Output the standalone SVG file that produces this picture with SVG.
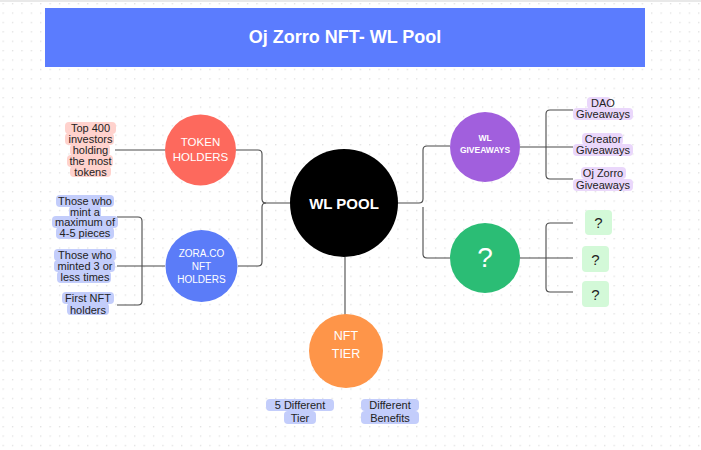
<svg xmlns="http://www.w3.org/2000/svg" width="701" height="450" viewBox="0 0 701 450">
<defs>
<pattern id="dots" x="2.5" y="3" width="9.4" height="9.4" patternUnits="userSpaceOnUse">
<circle cx="0.7" cy="0.7" r="0.7" fill="#d9d9d9"/>
</pattern>
<style>
.lbl{font-family:"Liberation Sans",Arial,sans-serif;font-size:11px;fill:#222;text-anchor:middle;dominant-baseline:central}
.ct{font-family:"Liberation Sans",Arial,sans-serif;fill:#fff;text-anchor:middle;dominant-baseline:central}
.pink{fill:#ffd2cd}
.blue{fill:#c3cdfb}
.purp{fill:#ead7fb}
.grn{fill:#d3f9d8}
.conn{fill:none;stroke:#4a4a4a;stroke-width:1.1}
</style>
</defs>
<rect width="701" height="450" fill="#ffffff"/>
<rect width="701" height="450" fill="url(#dots)"/>
<line x1="0" y1="1" x2="701" y2="1" stroke="#e2e2e2" stroke-width="1.5"/>

<g id="title">
<rect x="45" y="8" width="600" height="59" fill="#5b7cfe"/>
<text x="345" y="37" class="ct" style="font-size:18px;font-weight:bold">Oj Zorro NFT- WL Pool</text>
</g>

<g id="connectors">
<path class="conn" d="M115,150 H165"/>
<path class="conn" d="M236,150 H258 Q262,150 262,154 V199 Q262,203 266,203 H290"/>
<path class="conn" d="M238,266 H258 Q262,266 262,262 V207 Q262,203 266,203"/>
<path class="conn" d="M117,217 H138 Q142,217 142,221 V301 Q142,305 138,305 H117"/>
<path class="conn" d="M117,266 H165"/>
<path class="conn" d="M398,203 H419 Q423,203 423,199 V150 Q423,146 427,146 H450"/>
<path class="conn" d="M423,207 V254 Q423,258 427,258 H450"/>
<path class="conn" d="M520,147 H573"/>
<path class="conn" d="M573,110 H550 Q546,110 546,114 V175 Q546,179 550,179 H573"/>
<path class="conn" d="M520,258 H573"/>
<path class="conn" d="M573,223 H550 Q546,223 546,227 V288 Q546,292 550,292 H573"/>
<path class="conn" d="M345,257 V316"/>
</g>

<g id="wl-pool">
<circle cx="344" cy="203" r="54" fill="#000"/>
<text x="344" y="203" class="ct" style="font-size:15px;font-weight:bold">WL POOL</text>
</g>

<g id="token-holders">
<circle cx="200.5" cy="150" r="35.5" fill="#fd695d"/>
<text x="200.5" y="142" class="ct" style="font-size:11.5px">TOKEN</text>
<text x="200.5" y="157" class="ct" style="font-size:11.5px">HOLDERS</text>
</g>

<g id="zora-holders">
<circle cx="201.5" cy="266" r="36" fill="#5b7cf8"/>
<text x="201.5" y="253" class="ct" style="font-size:10px">ZORA.CO</text>
<text x="201.5" y="266" class="ct" style="font-size:10px">NFT</text>
<text x="201.5" y="279" class="ct" style="font-size:10px">HOLDERS</text>
</g>

<g id="wl-giveaways">
<circle cx="485" cy="147" r="35" fill="#a15fdd"/>
<text x="485" y="138" class="ct" style="font-size:8.5px;font-weight:bold">WL</text>
<text x="485" y="150" class="ct" style="font-size:8.5px;font-weight:bold">GIVEAWAYS</text>
</g>

<g id="unknown">
<circle cx="485" cy="258" r="35" fill="#2bbd75"/>
<text x="485" y="257" class="ct" style="font-size:28px">?</text>
</g>

<g id="nft-tier">
<circle cx="346" cy="351" r="37" fill="#fe9549"/>
<text x="346" y="336" class="ct" style="font-size:12.5px">NFT</text>
<text x="346" y="354" class="ct" style="font-size:12.5px">TIER</text>
</g>

<g id="label-top400">
<rect class="pink" x="65" y="122" width="51" height="12" rx="4"/>
<rect class="pink" x="65" y="133" width="49" height="12" rx="4"/>
<rect class="pink" x="70" y="144" width="40" height="12" rx="4"/>
<rect class="pink" x="67" y="155" width="46" height="12" rx="4"/>
<rect class="pink" x="70" y="166" width="41" height="11" rx="4"/>
<text x="90.5" y="127.5" class="lbl">Top 400</text>
<text x="90.5" y="138.5" class="lbl">investors</text>
<text x="90.5" y="149.5" class="lbl">holding</text>
<text x="90.5" y="160.5" class="lbl">the most</text>
<text x="90.5" y="171.5" class="lbl">tokens</text>
</g>

<g id="label-mint-max">
<rect class="blue" x="56" y="195" width="58" height="12" rx="4"/>
<rect class="blue" x="69" y="206" width="32" height="12" rx="4"/>
<rect class="blue" x="52" y="216" width="66" height="12" rx="4"/>
<rect class="blue" x="56" y="227" width="58" height="12" rx="4"/>
<text x="85" y="201" class="lbl">Those who</text>
<text x="85" y="211.5" class="lbl">mint a</text>
<text x="85" y="222" class="lbl">maximum of</text>
<text x="85" y="233" class="lbl">4-5 pieces</text>
</g>

<g id="label-minted3">
<rect class="blue" x="54" y="249" width="62" height="12" rx="4"/>
<rect class="blue" x="54" y="260" width="61" height="12" rx="4"/>
<rect class="blue" x="57" y="271" width="54" height="12" rx="4"/>
<text x="85" y="255" class="lbl">Those who</text>
<text x="85" y="266" class="lbl">minted 3 or</text>
<text x="85" y="277" class="lbl">less times</text>
</g>

<g id="label-first">
<rect class="blue" x="62" y="292" width="52" height="12" rx="4"/>
<rect class="blue" x="67" y="303" width="42" height="12" rx="4"/>
<text x="88" y="298" class="lbl">First NFT</text>
<text x="88" y="309.5" class="lbl">holders</text>
</g>

<g id="label-dao">
<rect class="purp" x="587" y="97" width="24" height="12" rx="4"/>
<rect class="purp" x="573" y="108" width="60" height="12" rx="4"/>
<text x="603" y="103" class="lbl">DAO</text>
<text x="603" y="114" class="lbl">Giveaways</text>
</g>

<g id="label-creator">
<rect class="purp" x="582" y="133" width="41" height="12" rx="4"/>
<rect class="purp" x="573" y="144" width="60" height="12" rx="4"/>
<text x="603" y="139" class="lbl">Creator</text>
<text x="603" y="150" class="lbl">Giveaways</text>
</g>

<g id="label-ojzorro">
<rect class="purp" x="581" y="167" width="45" height="12" rx="4"/>
<rect class="purp" x="573" y="179" width="60" height="12" rx="4"/>
<text x="603" y="173" class="lbl">Oj Zorro</text>
<text x="603" y="185" class="lbl">Giveaways</text>
</g>

<g id="q1">
<rect class="grn" x="585" y="210" width="27" height="25" rx="4"/>
<text x="598.5" y="222.5" class="lbl" style="font-size:15px">?</text>
</g>
<g id="q2">
<rect class="grn" x="582" y="246" width="27" height="26" rx="4"/>
<text x="595.5" y="259" class="lbl" style="font-size:15px">?</text>
</g>
<g id="q3">
<rect class="grn" x="582" y="281" width="27" height="26" rx="4"/>
<text x="595.5" y="294" class="lbl" style="font-size:15px">?</text>
</g>

<g id="label-5tier">
<rect class="blue" x="266" y="399" width="68" height="12" rx="4"/>
<rect class="blue" x="284" y="411" width="32" height="13" rx="4"/>
<text x="300" y="405" class="lbl">5 Different</text>
<text x="300" y="418" class="lbl">Tier</text>
</g>

<g id="label-benefits">
<rect class="blue" x="361" y="399" width="58" height="12" rx="4"/>
<rect class="blue" x="361" y="411" width="58" height="13" rx="4"/>
<text x="390" y="405" class="lbl">Different</text>
<text x="390" y="418" class="lbl">Benefits</text>
</g>
</svg>
